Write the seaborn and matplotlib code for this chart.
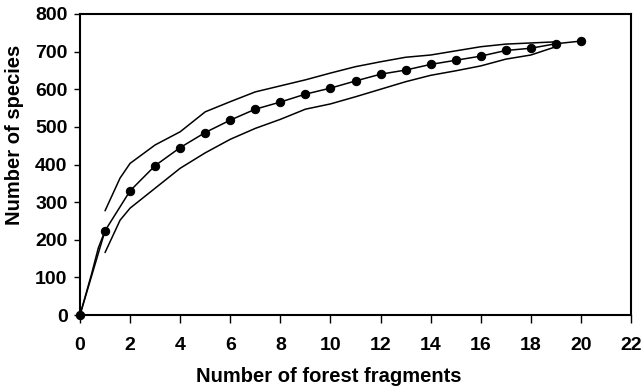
import matplotlib
matplotlib.use("Agg")
import matplotlib.pyplot as plt
import seaborn as sns
import pandas as pd

# mean species accumulation (points)
fragments = list(range(0, 21))
species = [0, 224, 330, 397, 445, 485, 518, 547, 566, 587, 603,
           622, 640, 651, 666, 677, 688, 703, 709, 721, 728]

# initial rise of the curve between 0 and 1 fragment
rise_x = [0, 0.47, 0.73, 1]
rise_y = [0, 111, 178, 224]

# confidence limits
ci_x = [1, 1.6, 2, 3, 4, 5, 6, 7, 8, 9, 10, 11, 12, 13, 14, 15, 16, 17, 18, 19]
upper = [277, 364, 403, 452, 487, 540, 567, 593, 609, 625, 643,
         660, 673, 685, 691, 702, 713, 720, 723, 726]
lower = [166, 252, 284, 337, 390, 431, 467, 496, 520, 547, 561,
         580, 600, 620, 637, 649, 662, 680, 691, 713]

sns.set_style("ticks")
plt.rcParams['font.family'] = ['Liberation Sans', 'DejaVu Sans']
plt.rcParams['font.weight'] = 'bold'
plt.rcParams['text.color'] = 'black'
plt.rcParams['axes.labelcolor'] = 'black'
plt.rcParams['xtick.color'] = 'black'
plt.rcParams['ytick.color'] = 'black'

fig = plt.figure(figsize=(6.43, 3.86), dpi=100)
ax = fig.add_axes([80 / 643, 1 - 315 / 386, 551 / 643, 301 / 386])

mean_df = pd.DataFrame({'x': fragments, 'y': species})
ci_df = pd.DataFrame({'x': ci_x, 'upper': upper, 'lower': lower})

sns.lineplot(x=rise_x, y=rise_y, ax=ax, color='black', lw=1.1)
sns.lineplot(data=mean_df, x='x', y='y', ax=ax, color='black', lw=1.1,
             marker='o', markersize=6, markeredgecolor='black', clip_on=False,
             zorder=5)
sns.lineplot(data=ci_df, x='x', y='upper', ax=ax, color='black', lw=1.1)
sns.lineplot(data=ci_df, x='x', y='lower', ax=ax, color='black', lw=1.1)

ax.set_xlim(0, 22)
ax.set_ylim(0, 800)
ax.set_xticks(range(0, 23, 2))
ax.set_yticks(range(0, 801, 100))
ax.tick_params(axis='both', direction='out', width=1, color='black',
               labelcolor='black', labelsize=14)
ax.tick_params(axis='x', length=6, pad=10)
ax.tick_params(axis='y', length=4, pad=5)
for lab in ax.get_xticklabels() + ax.get_yticklabels():
    lab.set_fontweight('bold')

for s in ax.spines.values():
    s.set_visible(True)
    s.set_linewidth(1.5)
    s.set_color('black')

ax.set_xlabel('Number of forest fragments', fontsize=14.5, fontweight='bold',
              color='black')
ax.set_ylabel('Number of species', fontsize=14.5, fontweight='bold',
              color='black')
ax.xaxis.set_label_coords(0.452, -0.173)
ax.yaxis.set_label_coords(-0.102, 0.60)

fig.savefig('out.png', dpi=100)
